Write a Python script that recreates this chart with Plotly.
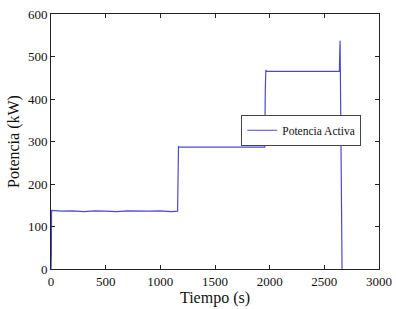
import plotly.graph_objects as go

# Time (s) and active power (kW)
tiempo = [0, 3, 5, 8, 100, 200, 300, 400, 500, 600, 700, 800, 900, 1000, 1100, 1158,
          1162, 1166, 1170, 1300, 1500, 1700, 1900, 1955,
          1960, 1965, 1970, 2100, 2300, 2500, 2638,
          2640, 2644, 2646, 2650, 2655, 2662]
potencia = [0, 30, 136, 138, 136, 137, 135, 137, 136, 135, 137, 136, 136, 137, 135, 136,
            220, 289, 287, 287, 287, 288, 287, 287,
            420, 468, 465, 465, 465, 465, 465,
            500, 537, 480, 300, 150, 0]

x_ticks = [0, 500, 1000, 1500, 2000, 2500, 3000]
y_ticks = [0, 100, 200, 300, 400, 500, 600]

serif = "Liberation Serif"

fig = go.Figure()
fig.add_trace(go.Scatter(x=tiempo, y=potencia, mode="lines", name="Potencia Activa",
                         line=dict(color="#4a4ad0", width=1.2)))

axis_common = dict(showline=True, linecolor="#222", linewidth=1, mirror="ticks",
                   ticks="inside", ticklen=4, tickcolor="#222", showgrid=False,
                   zeroline=False, automargin=False,
                   tickfont=dict(family=serif, size=13, color="#111"))

fig.update_xaxes(range=[0, 3000], tickvals=x_ticks,
                 title=dict(text="Tiempo (s)", font=dict(family=serif, size=16, color="#111"), standoff=2),
                 **axis_common)
fig.update_yaxes(range=[0, 600], tickvals=y_ticks,
                 title=dict(text="Potencia (kW)", font=dict(family=serif, size=16, color="#111"), standoff=4),
                 **axis_common)

fig.update_layout(
    width=396, height=309,
    margin=dict(l=51, r=17, t=14, b=40),
    paper_bgcolor="white", plot_bgcolor="white",
    showlegend=True,
    legend=dict(x=0.58, y=0.605, xanchor="left", yanchor="top",
                bgcolor="white", bordercolor="#444", borderwidth=1,
                font=dict(family=serif, size=11.5, color="#111"),
                itemwidth=30, tracegroupgap=0),
)

fig.write_html("out.html", config={"displayModeBar": False},
               post_script="document.body.style.margin='0px';document.body.style.overflow='hidden';")
